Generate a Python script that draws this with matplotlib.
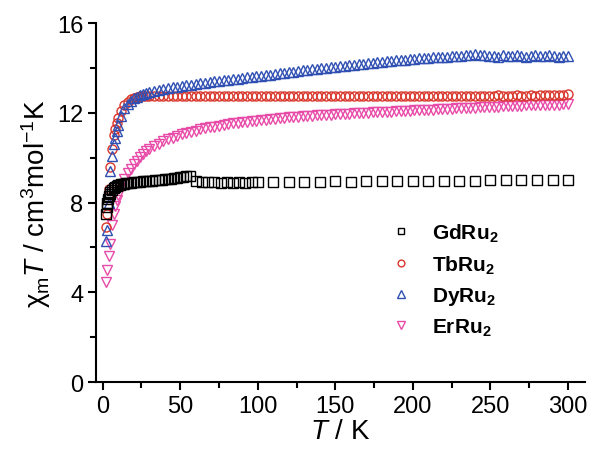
import matplotlib
matplotlib.use('Agg')
import matplotlib.pyplot as plt
from matplotlib.ticker import MultipleLocator

plt.rcParams['font.family'] = 'Liberation Sans'
plt.rcParams['mathtext.fontset'] = 'custom'
plt.rcParams['mathtext.rm'] = 'Liberation Sans'
plt.rcParams['mathtext.it'] = 'Liberation Sans:italic'
plt.rcParams['mathtext.bf'] = 'Liberation Sans:bold'

# temperature grid shared by Tb, Dy, Er
T = [2, 3, 4, 5, 6, 7, 8, 9, 10,
     12, 14, 16, 18, 20, 22, 24, 26, 28, 30,
     33, 36, 39, 42, 45, 48, 51, 54, 57, 60,
     63, 66, 69, 72, 75, 78, 81, 84, 87, 90,
     93, 96, 99, 102, 105, 108, 111, 114, 117, 120,
     123, 126, 129, 132, 135, 138, 141, 144, 147, 150,
     153, 156, 159, 162, 165, 168, 171, 174, 177, 180,
     183, 186, 189, 192, 195, 198, 201, 204, 207, 210,
     213, 216, 219, 222, 225, 228, 231, 234, 237, 240,
     243, 246, 249, 252, 255, 258, 261, 264, 267, 270,
     273, 276, 279, 282, 285, 288, 291, 294, 297, 300]

tb = [6.9, 7.5, 8.6, 9.6, 10.4, 11.0, 11.3, 11.55, 11.75,
      12.1, 12.35, 12.5, 12.62, 12.68, 12.72, 12.74, 12.75, 12.75, 12.76,
      12.76, 12.75, 12.77, 12.76, 12.75, 12.76, 12.77, 12.75, 12.76, 12.74,
      12.76, 12.77, 12.75, 12.76, 12.75, 12.77, 12.76, 12.75, 12.76, 12.77,
      12.75, 12.76, 12.74, 12.76, 12.77, 12.75, 12.76, 12.75, 12.77, 12.76,
      12.75, 12.76, 12.77, 12.75, 12.76, 12.74, 12.76, 12.77, 12.75, 12.76,
      12.77, 12.75, 12.76, 12.75, 12.77, 12.76, 12.74, 12.76, 12.75, 12.77,
      12.76, 12.75, 12.77, 12.76, 12.74, 12.76, 12.75, 12.77, 12.76, 12.75,
      12.77, 12.76, 12.75, 12.74, 12.76, 12.77, 12.75, 12.76, 12.77, 12.75,
      12.76, 12.77, 12.75, 12.76, 12.78, 12.76, 12.77, 12.75, 12.78, 12.77,
      12.76, 12.78, 12.77, 12.79, 12.78, 12.80, 12.79, 12.81, 12.80, 12.82]

dy = [6.3, 6.8, 8.0, 9.4, 10.1, 10.6, 10.9, 11.2, 11.45,
      11.85, 12.2, 12.4, 12.55, 12.65, 12.72, 12.78, 12.83, 12.88, 12.92,
      12.98, 13.02, 13.06, 13.10, 13.14, 13.17, 13.20, 13.23, 13.26, 13.29,
      13.32, 13.35, 13.38, 13.40, 13.43, 13.46, 13.48, 13.51, 13.53, 13.56,
      13.58, 13.61, 13.63, 13.66, 13.68, 13.71, 13.73, 13.76, 13.78, 13.81,
      13.84, 13.86, 13.89, 13.91, 13.94, 13.96, 13.99, 14.01, 14.04, 14.06,
      14.08, 14.10, 14.13, 14.15, 14.17, 14.19, 14.22, 14.24, 14.26, 14.28,
      14.30, 14.32, 14.34, 14.36, 14.38, 14.39, 14.41, 14.43, 14.44, 14.46,
      14.47, 14.49, 14.50, 14.51, 14.53, 14.54, 14.55, 14.57, 14.60, 14.62,
      14.56, 14.58, 14.52, 14.55, 14.50, 14.57, 14.53, 14.55, 14.56, 14.54,
      14.50, 14.55, 14.57, 14.54, 14.52, 14.56, 14.53, 14.50, 14.52, 14.53]

er = [4.45, 5.0, 5.6, 6.15, 7.0, 7.5, 7.85, 8.1, 8.35,
      8.75, 9.05, 9.3, 9.5, 9.7, 9.87, 10.02, 10.16, 10.29, 10.4,
      10.52, 10.63, 10.73, 10.82, 10.90, 10.97, 11.04, 11.10, 11.16, 11.21,
      11.26, 11.31, 11.35, 11.39, 11.43, 11.47, 11.50, 11.53, 11.56, 11.59,
      11.61, 11.64, 11.66, 11.68, 11.70, 11.72, 11.74, 11.76, 11.78, 11.80,
      11.81, 11.83, 11.84, 11.86, 11.87, 11.89, 11.90, 11.91, 11.92, 11.94,
      11.95, 11.96, 11.97, 11.98, 11.99, 12.00, 12.01, 12.02, 12.03, 12.04,
      12.05, 12.06, 12.07, 12.08, 12.09, 12.10, 12.11, 12.12, 12.13, 12.14,
      12.15, 12.16, 12.17, 12.18, 12.19, 12.20, 12.21, 12.22, 12.23, 12.24,
      12.25, 12.26, 12.26, 12.27, 12.28, 12.29, 12.30, 12.30, 12.31, 12.32,
      12.33, 12.33, 12.34, 12.35, 12.35, 12.36, 12.37, 12.37, 12.38, 12.39]

T_gd = [2, 2.5, 3, 3.5, 4, 4.5, 5, 6, 7, 8, 9, 10, 11, 12, 13, 14, 15, 16,
        18, 20, 22, 24, 26, 28, 30, 32, 34, 36, 38, 40, 42, 44, 46, 48, 50,
        52, 54, 56, 60, 64, 68, 72, 76, 80, 84, 88, 92, 96, 100,
        110, 120, 130, 140, 150, 160, 170, 180, 190, 200,
        210, 220, 230, 240, 250, 260, 270, 280, 290, 300]
gd = [7.5, 7.8, 8.0, 8.15, 8.3, 8.4, 8.47, 8.58, 8.65, 8.7, 8.74, 8.77,
      8.8, 8.82, 8.84, 8.85, 8.86, 8.87,
      8.89, 8.9, 8.92, 8.93, 8.95, 8.96, 8.97, 8.98, 9.0, 9.01, 9.02, 9.04,
      9.05, 9.07, 9.09, 9.11, 9.13, 9.15, 9.17, 9.2,
      8.95, 8.92, 8.9, 8.9, 8.89, 8.9, 8.89, 8.9, 8.89, 8.9, 8.9,
      8.92, 8.93, 8.92, 8.94, 8.95, 8.94, 8.95, 8.96, 8.95, 8.97,
      8.96, 8.97, 8.98, 8.97, 8.99, 9.0, 8.99, 9.01, 9.02, 9.0]

fig = plt.figure(figsize=(5.91, 4.56), dpi=100)
ax = fig.add_axes([0.162, 0.16, 0.828, 0.787])

ms = 6.5
ax.plot(T_gd, gd, 's', ms=ms, mfc='none', mec='black', mew=1.0, label=r'$\mathbf{GdRu_2}$', zorder=5)
ax.plot(T, tb, 'o', ms=ms, mfc='none', mec='#d9362b', mew=1.0, label=r'$\mathbf{TbRu_2}$', zorder=3)
ax.plot(T, dy, '^', ms=ms + 0.5, mfc='none', mec='#2f4fb3', mew=1.0, label=r'$\mathbf{DyRu_2}$', zorder=4)
ax.plot(T, er, 'v', ms=ms + 0.5, mfc='none', mec='#e84aa8', mew=1.0, label=r'$\mathbf{ErRu_2}$', zorder=2)

ax.set_xlim(-4.5, 311)
ax.set_ylim(0, 16)
ax.xaxis.set_major_locator(MultipleLocator(50))
ax.xaxis.set_minor_locator(MultipleLocator(25))
ax.yaxis.set_major_locator(MultipleLocator(4))
ax.yaxis.set_minor_locator(MultipleLocator(2))

for s in ['top', 'right']:
    ax.spines[s].set_visible(False)
for s in ['left', 'bottom']:
    ax.spines[s].set_linewidth(1.5)
ax.tick_params(which='major', length=6, width=1.5, labelsize=17, direction='out', pad=3)
ax.tick_params(which='minor', length=4, width=1.5, direction='out')

ax.set_xlabel(r'$T$ / K', fontsize=20, labelpad=1)
ax.set_ylabel(r'χ$_{\rm m}$$T$ / cm$^3$mol$^{-1}$K', fontsize=20, labelpad=3)

leg = ax.legend(loc='center left', bbox_to_anchor=(0.56, 0.285), frameon=False,
                fontsize=15, markerscale=0.75, handletextpad=0.9, labelspacing=0.45,
                handlelength=1.2)

fig.savefig('out.png', dpi=100)
